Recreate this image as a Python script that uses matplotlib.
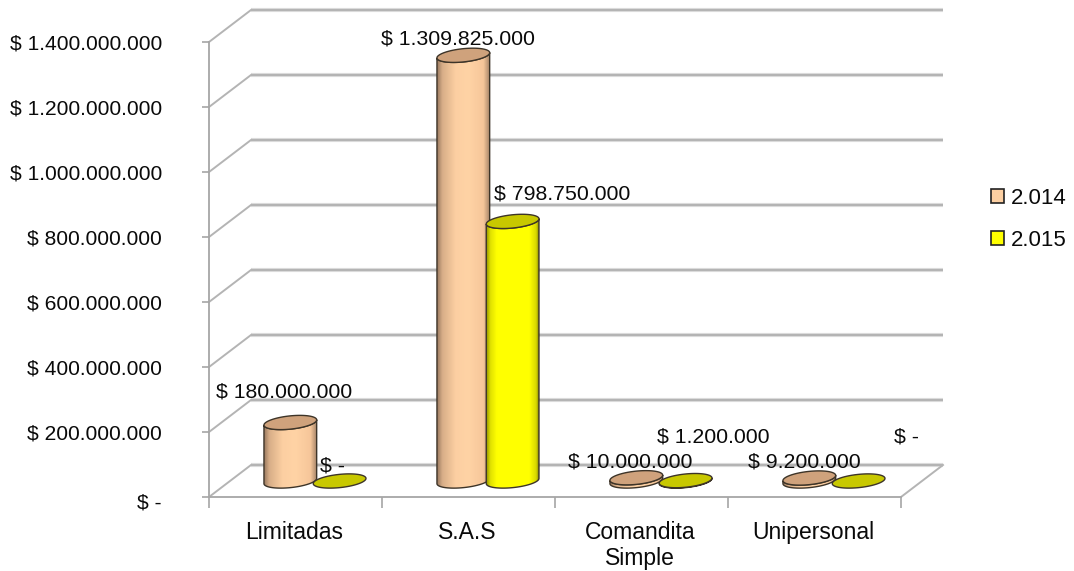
import numpy as np
import matplotlib
matplotlib.use("Agg")
import matplotlib.pyplot as plt
from matplotlib.patches import Patch, PathPatch, Polygon
from matplotlib.path import Path
from matplotlib.colors import LinearSegmentedColormap
from matplotlib.transforms import ScaledTranslation

categories = ["Limitadas", "S.A.S", "Comandita\nSimple", "Unipersonal"]
series_names = ["2.014", "2.015"]
values_2014 = [180000000, 1309825000, 10000000, 9200000]
values_2015 = [0, 798750000, 1200000, 0]
labels_2014 = ["$ 180.000.000", "$ 1.309.825.000", "$ 10.000.000", "$ 9.200.000"]
labels_2015 = ["$ -", "$ 798.750.000", "$ 1.200.000", "$ -"]
y_ticks = [0, 200000000, 400000000, 600000000, 800000000, 1000000000, 1200000000, 1400000000]
y_tick_labels = ["$ -", "$ 200.000.000", "$ 400.000.000", "$ 600.000.000", "$ 800.000.000",
                 "$ 1.000.000.000", "$ 1.200.000.000", "$ 1.400.000.000"]

# layout (pixels in the 1074x571 picture)
W, H = 1074, 571
L, R, B, T = 209, 901, 497, 42
DEPTH_X, DEPTH_Y = 42, 32
label_px_2014 = [(284, 392), (458, 39), (630, 462), (804, 462)]
label_px_2015 = [(333, 466), (562, 194), (713, 437), (907, 437)]

plt.rcParams["font.family"] = ["Liberation Sans", "DejaVu Sans"]
fig = plt.figure(figsize=(W / 100, H / 100), dpi=100)
ax = fig.add_axes([L / W, 1 - B / H, (R - L) / W, (B - T) / H])
ax.set_xlim(0, 4)
ax.set_ylim(0, 1400000000)
ax.set_autoscale_on(False)
ax.patch.set_visible(False)
for s in ["top", "right"]:
    ax.spines[s].set_visible(False)
for s in ["left", "bottom"]:
    ax.spines[s].set_color("#a6a6a6")
    ax.spines[s].set_linewidth(1.3)

sx = 4 / (R - L)            # data per pixel
sy = 1400000000 / (B - T)
def px2data(px, py):
    return (px - L) * sx, (B - py) * sy

GRID = "#b4b4b4"
dx, dy = DEPTH_X * sx, DEPTH_Y * sy
for v in y_ticks:
    ax.plot([dx, 4 + dx], [v + dy, v + dy], color="#e0e0e0", lw=3.0, clip_on=False, zorder=1, solid_capstyle="butt")
    ax.plot([dx, 4 + dx], [v + dy, v + dy], color=GRID, lw=1.6, clip_on=False, zorder=1.1, solid_capstyle="butt")
    ax.plot([0, dx], [v, v + dy], color=GRID, lw=1.4, clip_on=False, zorder=1.1)
ax.plot([4, 4 + dx], [0, dy], color=GRID, lw=1.4, clip_on=False, zorder=1.1)

ax.set_yticks(y_ticks)
ax.set_yticklabels(y_tick_labels, fontsize=15.1, color="#0a0a0a")
ax.set_xticks(range(5))
ax.set_xticklabels([""] * 5)
ax.set_xticks(np.arange(4) + 0.5, minor=True)
ax.set_xticklabels(categories, minor=True, fontsize=16.5, color="#0a0a0a", linespacing=1.17)
ax.tick_params(axis="y", length=5, width=1.2, color="#a6a6a6", pad=29)
ax.tick_params(axis="x", which="major", length=8, width=1.2, color="#a6a6a6")
ax.tick_params(axis="x", which="minor", length=0, pad=17.5)
# the zero label sits a little below its tick in the reference
zero = ax.get_yticklabels()[0]
zero.set_transform(zero.get_transform() + ScaledTranslation(0, -4 / 100, fig.dpi_scale_trans))
for lab in ax.get_xticklabels(minor=True):
    lab.set_transform(lab.get_transform() + ScaledTranslation(-1.5 / 100, 0, fig.dpi_scale_trans))

A, C, TILT = 26.5, 6.6, np.radians(6)
def ell(cx, v, t):
    px = A * np.cos(t) * np.cos(TILT) - C * np.sin(t) * np.sin(TILT)
    py = A * np.cos(t) * np.sin(TILT) + C * np.sin(t) * np.cos(TILT)
    return cx + px * sx, v + py * sy

BASE = 16 * sy
def cylinder(cx, value, cmap, cap, z):
    base, top = BASE, BASE + value
    t_low = np.linspace(np.pi, 2 * np.pi, 50)
    bx, by = ell(cx, base, t_low)
    tx, ty = ell(cx, top, t_low[::-1])
    if value > 0:
        pts = np.column_stack([np.r_[bx, tx], np.r_[by, ty]])
        path = Path(np.r_[pts, pts[:1]], closed=True)
        patch = PathPatch(path, facecolor="none", edgecolor="#3d3428", lw=1.0, zorder=z + 0.1)
        ax.add_patch(patch)
        im = ax.imshow(np.linspace(0, 1, 128)[None, :], cmap=cmap, aspect="auto", zorder=z,
                       extent=[cx - A * sx, cx + A * sx, base - 12 * sy, top + 12 * sy],
                       interpolation="bilinear")
        im.set_clip_path(PathPatch(path, transform=ax.transData))
    t = np.linspace(0, 2 * np.pi, 100)
    ex, ey = ell(cx, top, t)
    ax.add_patch(Polygon(np.column_stack([ex, ey]), closed=True, facecolor=cap,
                         edgecolor="#3d3428", lw=1.0, zorder=z + 0.2, clip_on=False))

cmap_a = LinearSegmentedColormap.from_list("a", [(0, "#9a7a60"), (0.1, "#d8ae88"), (0.35, "#fccfa2"),
                                                  (0.6, "#ffd3a5"), (0.88, "#f6c69a"), (1, "#a58468")])
cmap_b = LinearSegmentedColormap.from_list("b", [(0, "#8f8f00"), (0.08, "#e0e000"), (0.2, "#ffff00"),
                                                  (0.82, "#ffff00"), (0.95, "#d8d800"), (1, "#8f8f00")])
OFF_A, OFF_B = 0.47, 0.755
for i in range(4):
    cylinder(i + OFF_A, values_2014[i], cmap_a, "#cfa27c", 3 + i)
    cylinder(i + OFF_B, values_2015[i], cmap_b, "#c8c800", 3.5 + i)

ax.set_xlim(0, 4)
ax.set_ylim(0, 1400000000)

for txts, pos in [(labels_2014, label_px_2014), (labels_2015, label_px_2015)]:
    for s, (px, py) in zip(txts, pos):
        x, y = px2data(px, py)
        ax.text(x, y, s, ha="center", va="center", fontsize=15.3, color="#0a0a0a", zorder=10, clip_on=False)

handles = [Patch(facecolor="#fccfa2", edgecolor="#222222", lw=1.2),
           Patch(facecolor="#ffff00", edgecolor="#222222", lw=1.2)]
fig.legend(handles, series_names, loc="center left", bbox_to_anchor=(984 / W, 1 - 219.5 / H),
           frameon=False, fontsize=16, handlelength=0.62, handleheight=0.62, handletextpad=0.3,
           labelspacing=0.95, borderpad=0.3, borderaxespad=0, labelcolor="#0a0a0a")
fig.savefig("out.png", dpi=100)
